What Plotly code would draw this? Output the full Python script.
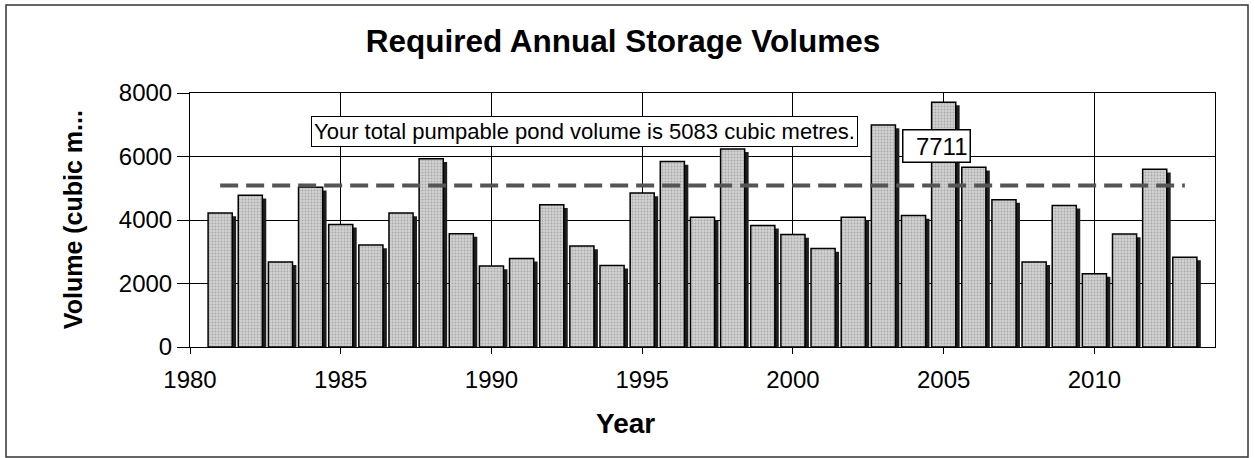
import plotly.graph_objects as go

# Required storage volume per year (cubic metres)
years = list(range(1981, 2014))
volumes = [
    4220, 4780, 2680, 5030, 3860, 3210, 4220, 5930, 3570, 2550,
    2790, 4480, 3180, 2570, 4850, 5840, 4090, 6240, 3830, 3540,
    3100, 4090, 6990, 4140, 7711, 5660, 4640, 2680, 4460, 2310,
    3560, 5600, 2830,
]
POND_VOLUME = 5083
LABELLED_YEAR = 2005

y_tick_vals = [0, 2000, 4000, 6000, 8000]
x_tick_vals = [1980, 1985, 1990, 1995, 2000, 2005, 2010]

FONT = "Liberation Sans, Arial, sans-serif"
SHADOW_DROP = 100  # shadow sits slightly below the bar top

fig = go.Figure()

# drop shadow behind each bar
fig.add_trace(go.Bar(
    x=years,
    y=[v - SHADOW_DROP for v in volumes],
    width=0.8,
    offset=-0.27,
    marker=dict(color="#1e1e1e", line=dict(width=0)),
    hoverinfo="skip",
    showlegend=False,
))

# stippled grey bars
fig.add_trace(go.Bar(
    x=years,
    y=volumes,
    width=0.8,
    offset=-0.4,
    marker=dict(
        color="#d2d2d2",
        line=dict(color="#000000", width=1.5),
        pattern=dict(shape=".", fgcolor="#808080", size=3, solidity=0.3,
                     fillmode="overlay"),
    ),
    showlegend=False,
))

# pond volume reference line
fig.add_trace(go.Scatter(
    x=[years[0], years[-1]],
    y=[POND_VOLUME, POND_VOLUME],
    mode="lines",
    line=dict(color="#555555", width=4, dash="18px,8px"),
    showlegend=False,
))

label_value = volumes[years.index(LABELLED_YEAR)]

fig.update_layout(
    width=1255,
    height=458,
    margin=dict(l=190, r=40, t=93, b=111),
    paper_bgcolor="white",
    plot_bgcolor="white",
    barmode="overlay",
    font=dict(family=FONT, color="#000000", size=22),
    title=dict(
        text="<b>Required Annual Storage Volumes</b>",
        x=0.4964, xref="container", xanchor="center",
        y=0.91, yref="container", yanchor="middle",
        font=dict(family=FONT, size=31.5, color="#000000"),
    ),
    xaxis=dict(
        range=[1980, 2014],
        tickvals=x_tick_vals,
        ticks="outside", ticklen=6, tickcolor="#000000", tickwidth=1,
        ticklabelstandoff=5,
        showgrid=True, gridcolor="#000000", gridwidth=1,
        showline=True, linecolor="#000000", linewidth=1, mirror=True,
        zeroline=False,
        tickfont=dict(family=FONT, size=24),
    ),
    yaxis=dict(
        range=[0, 8000],
        tickvals=y_tick_vals,
        ticks="outside", ticklen=12, tickcolor="#000000", tickwidth=1,
        showgrid=True, gridcolor="#000000", gridwidth=1,
        showline=True, linecolor="#000000", linewidth=1, mirror=True,
        zeroline=False,
        tickfont=dict(family=FONT, size=24),
    ),
    annotations=[
        dict(
            text="<b>Volume (cubic m...</b>",
            xref="paper", yref="paper", x=-0.114, y=0.5,
            textangle=-90, showarrow=False,
            xanchor="center", yanchor="middle",
            font=dict(family=FONT, size=25),
        ),
        dict(
            text="<b>Year</b>",
            xref="paper", yref="paper", x=0.4244, y=-0.303,
            showarrow=False, xanchor="center", yanchor="middle",
            font=dict(family=FONT, size=28),
        ),
        dict(
            text=f"Your total pumpable pond volume is {POND_VOLUME} cubic metres.",
            xref="paper", yref="paper", x=0.385, y=0.85,
            showarrow=False, xanchor="center", yanchor="middle",
            bgcolor="white", bordercolor="#000000", borderwidth=1, borderpad=2,
            font=dict(family=FONT, size=22),
        ),
        dict(
            text=str(label_value),
            xref="x", yref="y", x=LABELLED_YEAR, y=label_value,
            showarrow=False, xanchor="center", yanchor="middle",
            xshift=-7, yshift=-44, width=62, align="right",
            bgcolor="white", bordercolor="#000000", borderwidth=1.5, borderpad=2,
            font=dict(family=FONT, size=24),
        ),
    ],
    shapes=[
        # outer chart frame
        dict(type="rect", xref="paper", yref="paper",
             x0=-0.1795, x1=1.0322, y0=-0.433, y1=1.346,
             line=dict(color="#333333", width=1.5), layer="below"),
    ],
)

fig.write_html("out.html")
